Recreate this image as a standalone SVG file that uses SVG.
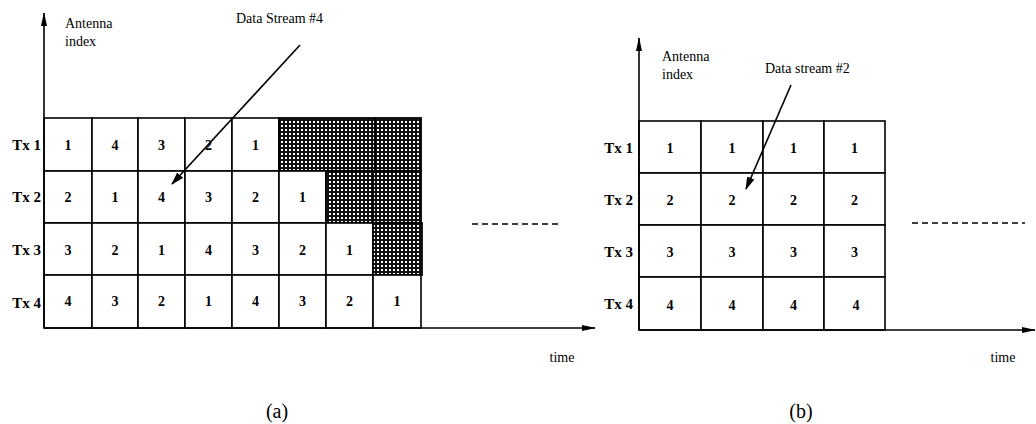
<svg xmlns="http://www.w3.org/2000/svg" width="1036" height="424" viewBox="0 0 1036 424">
  <defs>
    <style>
      .ln { stroke: #000; stroke-width: 1.6; fill: none; }
      .cell { stroke: #000; stroke-width: 1.6; fill: #fff; }
      .shade { stroke: #000; stroke-width: 1.8; fill: url(#mesh); }
      .num { font-family: "Liberation Serif", "Times New Roman", serif; font-size: 14px; font-weight: bold; text-anchor: middle; fill: #000; }
      .tx { font-family: "Liberation Serif", "Times New Roman", serif; font-size: 15px; font-weight: bold; text-anchor: end; fill: #000; }
      .lbl { font-family: "Liberation Serif", "Times New Roman", serif; font-size: 14px; fill: #000; }
      .cap { font-family: "Liberation Serif", "Times New Roman", serif; font-size: 20px; text-anchor: middle; fill: #000; }
      .dash { stroke: #000; stroke-width: 1.6; stroke-dasharray: 6 4; }
    </style>
    <pattern id="mesh" patternUnits="userSpaceOnUse" width="4" height="4">
      <rect width="4" height="4" fill="#111"/>
      <rect x="1" y="1" width="2" height="2" fill="#fff"/>
    </pattern>
    <marker id="axisHead" viewBox="0 0 14 8" refX="13" refY="4" markerWidth="14" markerHeight="8" markerUnits="userSpaceOnUse" orient="auto">
      <path d="M0,1 L14,4 L0,7 Z" fill="#000"/>
    </marker>
    <marker id="ptrHead" viewBox="0 0 13 9" refX="12" refY="4.5" markerWidth="13" markerHeight="9" markerUnits="userSpaceOnUse" orient="auto">
      <path d="M0,0.5 L13,4.5 L0,8.5 Z" fill="#000"/>
    </marker>
  </defs>
  <rect width="1036" height="424" fill="#fff"/>

  <!-- (a) cyclic assignment of data streams to antennas -->
  <g id="grid-a">
    <!-- Tx 1 -->
    <rect class="cell" x="44" y="118" width="48" height="53"/>
    <rect class="cell" x="92" y="118" width="46" height="53"/>
    <rect class="cell" x="138" y="118" width="47" height="53"/>
    <rect class="cell" x="185" y="118" width="47" height="53"/>
    <rect class="cell" x="232" y="118" width="47" height="53"/>
    <rect class="shade" x="279" y="118" width="96" height="53"/>
    <rect class="shade" x="375" y="118" width="46" height="53"/>
    <!-- Tx 2 -->
    <rect class="cell" x="44" y="171" width="48" height="52"/>
    <rect class="cell" x="92" y="171" width="46" height="52"/>
    <rect class="cell" x="138" y="171" width="47" height="52"/>
    <rect class="cell" x="185" y="171" width="47" height="52"/>
    <rect class="cell" x="232" y="171" width="47" height="52"/>
    <rect class="cell" x="279" y="171" width="47" height="52"/>
    <rect class="shade" x="326" y="171" width="47" height="52"/>
    <rect class="shade" x="373" y="171" width="48" height="52"/>
    <!-- Tx 3 -->
    <rect class="cell" x="44" y="223" width="48" height="52"/>
    <rect class="cell" x="92" y="223" width="46" height="52"/>
    <rect class="cell" x="138" y="223" width="47" height="52"/>
    <rect class="cell" x="185" y="223" width="47" height="52"/>
    <rect class="cell" x="232" y="223" width="47" height="52"/>
    <rect class="cell" x="279" y="223" width="47" height="52"/>
    <rect class="cell" x="326" y="223" width="47" height="52"/>
    <rect class="shade" x="373" y="223" width="49" height="52"/>
    <!-- Tx 4 -->
    <rect class="cell" x="44" y="275" width="48" height="53"/>
    <rect class="cell" x="92" y="275" width="46" height="53"/>
    <rect class="cell" x="138" y="275" width="47" height="53"/>
    <rect class="cell" x="185" y="275" width="47" height="53"/>
    <rect class="cell" x="232" y="275" width="47" height="53"/>
    <rect class="cell" x="279" y="275" width="47" height="53"/>
    <rect class="cell" x="326" y="275" width="47" height="53"/>
    <rect class="cell" x="373" y="275" width="48" height="53"/>

    <text class="num" x="68" y="150">1</text>
    <text class="num" x="115" y="150">4</text>
    <text class="num" x="161.5" y="150">3</text>
    <text class="num" x="208.5" y="150">2</text>
    <text class="num" x="255.5" y="150">1</text>

    <text class="num" x="68" y="202">2</text>
    <text class="num" x="115" y="202">1</text>
    <text class="num" x="161.5" y="202">4</text>
    <text class="num" x="208.5" y="202">3</text>
    <text class="num" x="255.5" y="202">2</text>
    <text class="num" x="302.5" y="202">1</text>

    <text class="num" x="68" y="255">3</text>
    <text class="num" x="115" y="255">2</text>
    <text class="num" x="161.5" y="255">1</text>
    <text class="num" x="208.5" y="255">4</text>
    <text class="num" x="255.5" y="255">3</text>
    <text class="num" x="302.5" y="255">2</text>
    <text class="num" x="349.5" y="255">1</text>

    <text class="num" x="68" y="306">4</text>
    <text class="num" x="115" y="306">3</text>
    <text class="num" x="161.5" y="306">2</text>
    <text class="num" x="208.5" y="306">1</text>
    <text class="num" x="255.5" y="306">4</text>
    <text class="num" x="302.5" y="306">3</text>
    <text class="num" x="349.5" y="306">2</text>
    <text class="num" x="397" y="306">1</text>
  </g>

  <g id="labels-a">
    <text class="tx" x="41" y="150">Tx 1</text>
    <text class="tx" x="41" y="202">Tx 2</text>
    <text class="tx" x="41" y="255">Tx 3</text>
    <text class="tx" x="41" y="308">Tx 4</text>
    <text class="lbl" x="65" y="28">Antenna</text>
    <text class="lbl" x="65" y="46">index</text>
    <text class="lbl" x="236" y="23">Data Stream #4</text>
    <text class="lbl" x="562" y="362" text-anchor="middle">time</text>
    <text class="cap" x="277" y="418">(a)</text>
  </g>

  <!-- (b) fixed assignment: one stream per antenna -->
  <g id="grid-b">
    <rect class="cell" x="639" y="121" width="62" height="52"/>
    <rect class="cell" x="701" y="121" width="62" height="52"/>
    <rect class="cell" x="763" y="121" width="61" height="52"/>
    <rect class="cell" x="824" y="121" width="61" height="52"/>

    <rect class="cell" x="639" y="173" width="62" height="52"/>
    <rect class="cell" x="701" y="173" width="62" height="52"/>
    <rect class="cell" x="763" y="173" width="61" height="52"/>
    <rect class="cell" x="824" y="173" width="61" height="52"/>

    <rect class="cell" x="639" y="225" width="62" height="52"/>
    <rect class="cell" x="701" y="225" width="62" height="52"/>
    <rect class="cell" x="763" y="225" width="61" height="52"/>
    <rect class="cell" x="824" y="225" width="61" height="52"/>

    <rect class="cell" x="639" y="277" width="62" height="53"/>
    <rect class="cell" x="701" y="277" width="62" height="53"/>
    <rect class="cell" x="763" y="277" width="61" height="53"/>
    <rect class="cell" x="824" y="277" width="61" height="53"/>

    <text class="num" x="670" y="153">1</text>
    <text class="num" x="732" y="153">1</text>
    <text class="num" x="793.5" y="153">1</text>
    <text class="num" x="854.5" y="153">1</text>

    <text class="num" x="670" y="205">2</text>
    <text class="num" x="732" y="205">2</text>
    <text class="num" x="793.5" y="205">2</text>
    <text class="num" x="854.5" y="205">2</text>

    <text class="num" x="670" y="257">3</text>
    <text class="num" x="732" y="257">3</text>
    <text class="num" x="793.5" y="257">3</text>
    <text class="num" x="854.5" y="257">3</text>

    <text class="num" x="670" y="310">4</text>
    <text class="num" x="732" y="310">4</text>
    <text class="num" x="793.5" y="310">4</text>
    <text class="num" x="856" y="310">4</text>
  </g>

  <g id="labels-b">
    <text class="tx" x="633" y="153">Tx 1</text>
    <text class="tx" x="633" y="205">Tx 2</text>
    <text class="tx" x="633" y="257">Tx 3</text>
    <text class="tx" x="633" y="309">Tx 4</text>
    <text class="lbl" x="662" y="61">Antenna</text>
    <text class="lbl" x="662" y="79">index</text>
    <text class="lbl" x="765" y="73">Data stream #2</text>
    <text class="lbl" x="1003" y="362" text-anchor="middle">time</text>
    <text class="cap" x="801" y="418">(b)</text>
  </g>

  <!-- axes, pointers and continuation marks -->
  <g id="connectors">
    <line class="ln" x1="44" y1="328" x2="44" y2="13" marker-end="url(#axisHead)"/>
    <line class="ln" x1="44" y1="328" x2="595" y2="328" marker-end="url(#axisHead)"/>
    <line class="ln" x1="300" y1="45" x2="172" y2="184" marker-end="url(#ptrHead)"/>
    <line class="dash" x1="472" y1="224" x2="560" y2="224"/>

    <line class="ln" x1="639" y1="330" x2="639" y2="38" marker-end="url(#axisHead)"/>
    <line class="ln" x1="639" y1="330" x2="1035" y2="330" marker-end="url(#axisHead)"/>
    <line class="ln" x1="791" y1="85" x2="746" y2="189" marker-end="url(#ptrHead)"/>
    <line class="dash" x1="912" y1="223" x2="1025" y2="223"/>
  </g>
</svg>
